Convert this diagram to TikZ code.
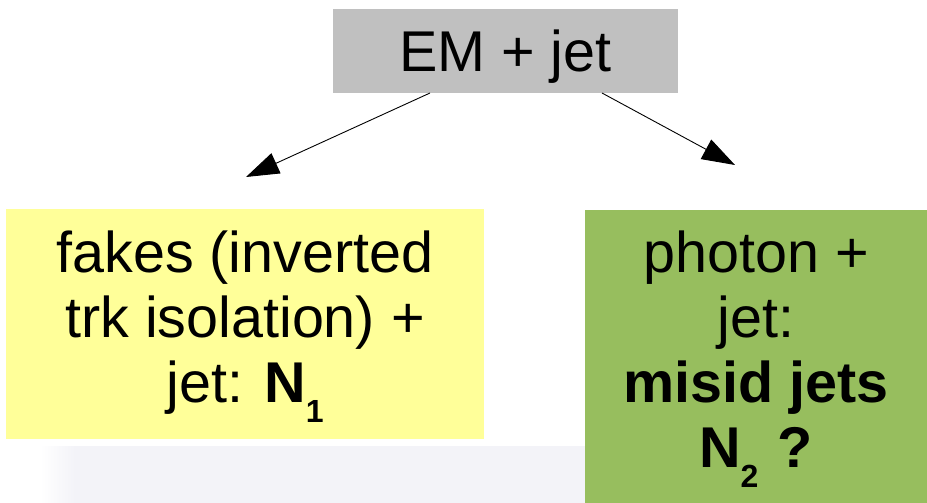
\documentclass[tikz,border=0pt]{standalone}
\usepackage{fontspec}
\setmainfont{Liberation Sans}
\usetikzlibrary{arrows.meta}
\definecolor{emgray}{HTML}{C0C0C0}
\definecolor{fakeyellow}{HTML}{FFFF99}
\definecolor{photgreen}{HTML}{97BE5E}
\definecolor{wmark}{HTML}{F3F3F8}
\newcommand{\boxtext}[4]{\begin{minipage}[c][#2][t]{#1}\centering\vspace*{#3}\strut#4\end{minipage}}
\newcommand{\subidx}[1]{\raisebox{-20pt}{\fontsize{32}{32}\selectfont #1}}
\begin{document}
\begin{tikzpicture}[x=1pt,y=-1pt,
  every node/.style={inner sep=0pt, outer sep=0pt, font=\fontsize{57.5}{65}\selectfont},
  arr/.style={-{Triangle[length=33pt,width=22pt]}, line width=0.9pt, black}]
\useasboundingbox (0,0) rectangle (927,503);
\shade[left color=white,right color=wmark] (40,446) rectangle (75,503);
\fill[wmark] (75,446) rectangle (585,503);
\node[fill=emgray, minimum width=345pt, minimum height=84pt, text height=42pt, text depth=0pt] (em) at (505.5,51) {EM + jet};
\node[fill=fakeyellow] (fakes) at (245,324) {\boxtext{478pt}{230pt}{17.5pt}{fakes (inverted\\trk isolation) +\\jet: \textbf{N\subidx{1}}}};
\node[fill=photgreen] (photon) at (756,356.5) {\boxtext{342pt}{293pt}{16.5pt}{photon +\\jet:\\\textbf{misid jets}\\\textbf{N\subidx{2}\,\,?}}};
\coordinate (tipL) at (246,177);
\coordinate (tipR) at (735,165);
\draw[arr] ([xshift=-75.5pt]em.south) -- (tipL);
\draw[arr] ([xshift=96.5pt]em.south) -- (tipR);
\end{tikzpicture}
\end{document}
